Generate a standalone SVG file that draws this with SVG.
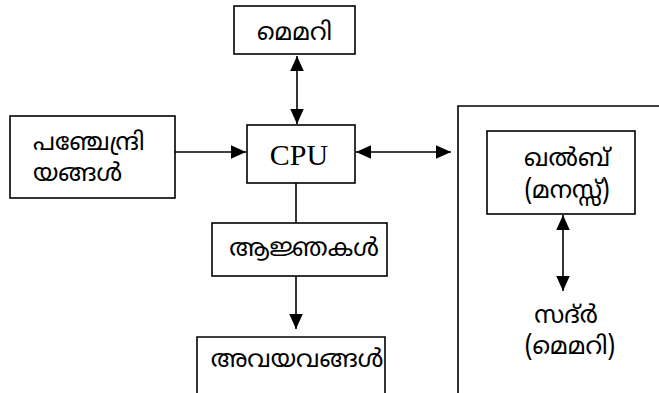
<svg xmlns="http://www.w3.org/2000/svg" width="659" height="393" viewBox="0 0 659 393">
<style>
.box{fill:#fff;stroke:#000;stroke-width:1.6}
.ln{fill:none;stroke:#000;stroke-width:1.6}
.ml{font-family:"Noto Sans Malayalam","Noto Sans",sans-serif;font-size:24.5px;fill:#000;text-anchor:middle}
.st{text-anchor:start}
.en{font-family:"Liberation Serif",serif;font-size:30px;fill:#000;text-anchor:middle}
</style>
<defs>
<marker id="ah" viewBox="0 0 10 10" refX="10" refY="5" markerWidth="15" markerHeight="15" markerUnits="userSpaceOnUse" orient="auto-start-reverse">
<path d="M0,0.5 L10,5 L0,9.5 Z" fill="#000"/>
</marker>
</defs>
<rect width="659" height="393" fill="#fff"/>
<g id="connectors">
<line class="ln" x1="297" y1="56" x2="297" y2="124" marker-start="url(#ah)" marker-end="url(#ah)"/>
<line class="ln" x1="175" y1="152" x2="246" y2="152" marker-end="url(#ah)"/>
<line class="ln" x1="356" y1="152" x2="451" y2="152" marker-start="url(#ah)" marker-end="url(#ah)"/>
<line class="ln" x1="296" y1="183" x2="296" y2="223"/>
<line class="ln" x1="296" y1="276" x2="296" y2="329" marker-end="url(#ah)"/>
<line class="ln" x1="563" y1="215" x2="563" y2="291" marker-start="url(#ah)" marker-end="url(#ah)"/>
</g>
<g id="memory">
<rect class="box" x="234" y="6" width="121" height="48"/>
<text class="ml" x="294.5" y="40">മെമറി</text>
</g>
<g id="senses">
<rect class="box" x="10" y="116" width="165" height="82"/>
<text class="ml st" x="33" y="150">പഞ്ചേന്ദ്രി</text>
<text class="ml st" x="33" y="181">യങ്ങൾ</text>
</g>
<g id="cpu">
<rect class="box" x="247" y="125" width="108" height="58"/>
<text class="en" x="299" y="165">CPU</text>
</g>
<g id="commands">
<rect class="box" x="212" y="223" width="175" height="53"/>
<text class="ml" x="304" y="256">ആജ്ഞകൾ</text>
</g>
<g id="organs">
<path class="ln" d="M197,395 V337 H385 V395"/>
<text class="ml" x="297" y="367">അവയവങ്ങൾ</text>
</g>
<g id="heart-region">
<path class="ln" d="M458,395 V106 H660"/>
</g>
<g id="qalb">
<rect class="box" x="487" y="131" width="148" height="83"/>
<text class="ml" x="567" y="166">ഖൽബ്</text>
<text class="ml" x="567" y="198">(മനസ്സ്)</text>
</g>
<g id="sadr">
<text class="ml" x="566" y="323">സദ്ർ</text>
<text class="ml" x="570" y="354">(മെമറി)</text>
</g>
</svg>
